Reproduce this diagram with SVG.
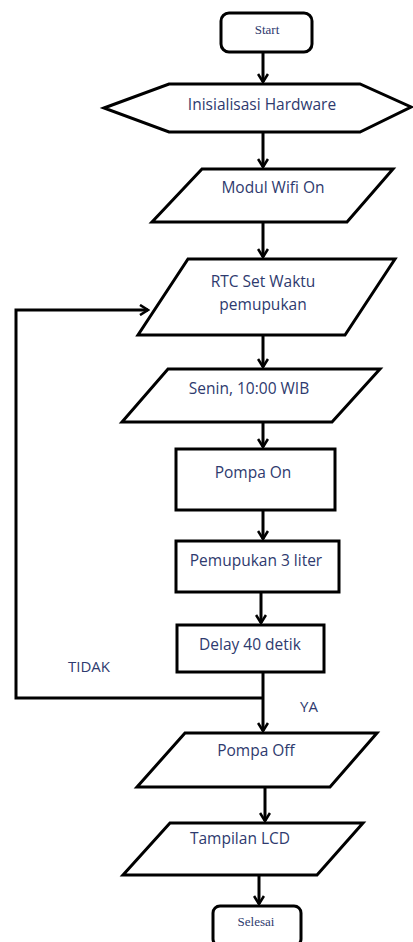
<svg xmlns="http://www.w3.org/2000/svg" width="413" height="942" viewBox="0 0 413 942">
<defs>
<marker id="ah" markerWidth="12" markerHeight="12" viewBox="0 0 12 12" refX="10" refY="6" orient="auto" markerUnits="userSpaceOnUse">
<path d="M2,1 L10,6 L2,11" fill="none" stroke="#000" stroke-width="2.6"/>
</marker>
</defs>
<style>
.s{fill:#fff;stroke:#000;stroke-width:3;stroke-linejoin:miter}
.c{fill:none;stroke:#000;stroke-width:3}
.t{font-family:"Open Sans","Liberation Sans",sans-serif;font-size:15.5px;fill:#2e3a6e;text-anchor:middle}
.l{font-family:"Open Sans","Liberation Sans",sans-serif;font-size:15px;fill:#2e3a6e}
.r{font-family:"Liberation Serif",serif;font-size:13px;fill:#2e3a6e;text-anchor:middle}
</style>
<rect width="413" height="942" fill="#fff"/>
<g id="connectors">
<line class="c" x1="263" y1="52" x2="263" y2="82" marker-end="url(#ah)"/>
<line class="c" x1="263" y1="132" x2="263" y2="167" marker-end="url(#ah)"/>
<line class="c" x1="263" y1="222" x2="263" y2="257" marker-end="url(#ah)"/>
<line class="c" x1="263" y1="335" x2="263" y2="367" marker-end="url(#ah)"/>
<line class="c" x1="263" y1="422" x2="263" y2="447" marker-end="url(#ah)"/>
<line class="c" x1="263" y1="510" x2="263" y2="539" marker-end="url(#ah)"/>
<line class="c" x1="261" y1="592" x2="261" y2="623" marker-end="url(#ah)"/>
<line class="c" x1="263" y1="672" x2="263" y2="731" marker-end="url(#ah)"/>
<polyline class="c" points="263,698 16,698 16,310 148,310" marker-end="url(#ah)"/>
<line class="c" x1="265" y1="787" x2="265" y2="821" marker-end="url(#ah)"/>
<line class="c" x1="259" y1="875" x2="259" y2="904" marker-end="url(#ah)"/>
<text class="l" x="68" y="672">TIDAK</text>
<text class="l" x="300" y="712">YA</text>
</g>
<g id="start">
<rect class="s" x="221" y="13" width="91" height="39" rx="8"/>
<text class="r" x="267" y="34">Start</text>
</g>
<g id="init">
<polygon class="s" points="104,108 169,84 360,84 411,107 360,132 169,132"/>
<text class="t" x="262" y="110">Inisialisasi Hardware</text>
</g>
<g id="wifi">
<polygon class="s" points="202,169 393,169 347,222 152,222"/>
<text class="t" x="273" y="193">Modul Wifi On</text>
</g>
<g id="rtc">
<polygon class="s" points="188,259 395,259 345,335 138,335"/>
<text class="t" x="263" y="287">RTC Set Waktu</text>
<text class="t" x="263" y="310">pemupukan</text>
</g>
<g id="senin">
<polygon class="s" points="168,369 380,369 332,422 122,422"/>
<text class="t" x="249" y="394">Senin, 10:00 WIB</text>
</g>
<g id="pompaon">
<rect class="s" x="176" y="449" width="159" height="61"/>
<text class="t" x="253" y="478">Pompa On</text>
</g>
<g id="pemupukan">
<rect class="s" x="176" y="541" width="163" height="51"/>
<text class="t" x="256" y="566">Pemupukan 3 liter</text>
</g>
<g id="delay">
<rect class="s" x="177" y="625" width="147" height="47"/>
<text class="t" x="250" y="650">Delay 40 detik</text>
</g>
<g id="pompaoff">
<polygon class="s" points="185,733 377,733 330,787 137,787"/>
<text class="t" x="256" y="756">Pompa Off</text>
</g>
<g id="lcd">
<polygon class="s" points="170,823 363,823 317,875 123,875"/>
<text class="t" x="240" y="844">Tampilan LCD</text>
</g>
<g id="selesai">
<rect class="s" x="213" y="906" width="88" height="40" rx="7"/>
<text class="r" x="256" y="926">Selesai</text>
</g>
</svg>
